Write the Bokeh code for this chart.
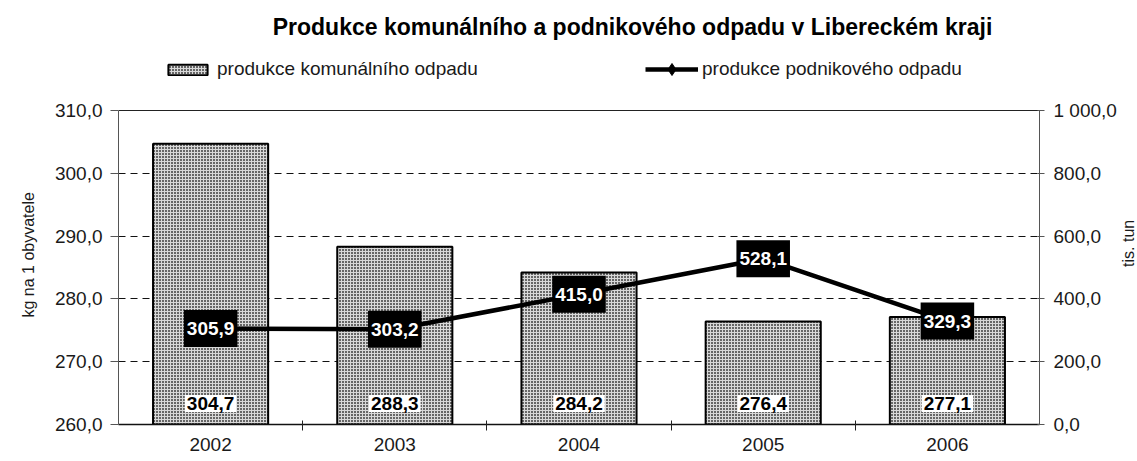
import math
from bokeh.plotting import figure
from bokeh.layouts import row
from bokeh.models import Range1d, LinearAxis, FixedTicker, Legend, LegendItem, Title, Label, Grid
from bokeh.core.properties import value
from bokeh.embed import file_html
from bokeh.resources import INLINE

# ---- data ----
years = ["2002", "2003", "2004", "2005", "2006"]
komunal = [304.7, 288.3, 284.2, 276.4, 277.1]      # kg na 1 obyvatele (left axis)
podnik = [305.9, 303.2, 415.0, 528.1, 329.3]       # tis. tun (right axis)
left_ticks = [260, 270, 280, 290, 300, 310]
left_labels = ["260,0", "270,0", "280,0", "290,0", "300,0", "310,0"]
right_ticks = [0, 200, 400, 600, 800, 1000]
right_labels = ["0,0", "200,0", "400,0", "600,0", "800,0", "1 000,0"]

def fmt(v):
    return f"{v:.1f}".replace(".", ",")

xs = [i + 0.5 for i in range(len(years))]
komunal_labels = [fmt(v) for v in komunal]
podnik_labels = [fmt(v) for v in podnik]

FONT = "Liberation Sans"
TXT = "#1a1a1a"

# ---- layout (pixels) ----
# The frame covers the header too (title + legend live inside it);
# the axes are bounded to the value ranges so the chart box is 314 px tall.
FW = 921
PLOT_H = 314          # height of the 260..310 band
HEAD = 110            # header space above the band
FH = PLOT_H + HEAD
BL, BR, BT, BB = 118, 80, 0, 37
STRIP_W = 18          # narrow strip on the right for the right axis title
TOTAL_H = FH + BT + BB
Y0, Y1 = left_ticks[0], left_ticks[-1]
R0, R1 = right_ticks[0], right_ticks[-1]
y_top = Y0 + FH / PLOT_H * (Y1 - Y0)
r_top = R0 + FH / PLOT_H * (R1 - R0)

def dx(px):   # canvas px -> x data
    return (px - BL) / FW * len(years)

def dy(py):   # canvas px -> left y data
    return Y0 + (FH - py) / PLOT_H * (Y1 - Y0)

p = figure(frame_width=FW, frame_height=FH,
           x_range=Range1d(0, len(years)), y_range=Range1d(Y0, y_top),
           output_backend="svg", toolbar_location=None,
           min_border_left=BL, min_border_right=BR,
           min_border_top=BT, min_border_bottom=BB,
           background_fill_color="white", border_fill_color="white")
p.extra_y_ranges = {"right": Range1d(R0, r_top)}
p.outline_line_color = None

# grid
p.xgrid.visible = False
p.ygrid.ticker = FixedTicker(ticks=left_ticks[1:-1])
p.ygrid.grid_line_color = "#111111"
p.ygrid.grid_line_dash = "7 5"
p.ygrid.grid_line_width = 1
p.add_layout(Grid(dimension=1, ticker=FixedTicker(ticks=[Y1]),
                  grid_line_color="#222222", grid_line_width=1.2))

# x axis
xa = p.xaxis[0]
xa.ticker = FixedTicker(ticks=xs, minor_ticks=[1, 2, 3, 4])
xa.major_label_overrides = {x: y for x, y in zip(xs, years)}
xa.major_tick_line_color = None
xa.major_tick_in = 0
xa.major_tick_out = 0
xa.minor_tick_in = 4
xa.minor_tick_out = 6
xa.minor_tick_line_color = "#222222"
xa.axis_line_color = "#111111"
xa.axis_line_width = 1.5
xa.major_label_standoff = 7
xa.major_label_text_font = FONT
xa.major_label_text_font_size = "19px"
xa.major_label_text_color = TXT

# left axis
ya = p.yaxis[0]
ya.bounds = (Y0, Y1)
ya.ticker = FixedTicker(ticks=left_ticks, minor_ticks=[])
ya.major_label_overrides = dict(zip(left_ticks, left_labels))
ya.major_tick_in = 0
ya.major_tick_out = 8
ya.minor_tick_line_color = None
ya.axis_line_color = "#555555"
ya.major_tick_line_color = "#555555"
ya.major_label_standoff = 8
ya.major_label_text_font = FONT
ya.major_label_text_font_size = "19px"
ya.major_label_text_color = TXT

# right axis
ra = LinearAxis(y_range_name="right", bounds=(R0, R1),
                ticker=FixedTicker(ticks=right_ticks, minor_ticks=[]))
ra.major_label_overrides = dict(zip(right_ticks, right_labels))
ra.major_tick_in = 2
ra.major_tick_out = 5
ra.minor_tick_line_color = None
ra.axis_line_color = "#555555"
ra.major_tick_line_color = "#555555"
ra.major_label_standoff = 9
ra.major_label_text_font = FONT
ra.major_label_text_font_size = "19px"
ra.major_label_text_color = TXT
p.add_layout(ra, "right")

# bars
r_bar = p.vbar(x=xs, top=komunal, bottom=Y0, width=0.625,
               fill_color="#666666", hatch_pattern="cross", hatch_color="#d8d8d8",
               hatch_scale=3, hatch_weight=1,
               line_color="#000000", line_width=2)

# line
r_line = p.line(xs, podnik, y_range_name="right", line_color="black", line_width=4.5)
r_mark = p.scatter(xs, podnik, y_range_name="right", marker="diamond", size=14,
                   fill_color="black", line_color="black")

# bar value labels (white boxes near the base)
p.text(x=xs, y=[dy(403)] * len(xs), text=komunal_labels,
       text_font=value(FONT), text_font_size="19px", text_font_style="bold",
       text_color="black", text_align="center", text_baseline="middle",
       background_fill_color="white", padding=2)

# line value labels (black boxes)
p.text(x=xs, y=podnik, text=podnik_labels, y_range_name="right",
       text_font=value(FONT), text_font_size="19px", text_font_style="bold",
       text_color="white", text_align="center", text_baseline="middle",
       background_fill_color="black", padding=dict(left=3, right=3, top=12, bottom=12))

# legends (inside the header part of the frame)
leg_common = dict(orientation="horizontal", padding=0, margin=0, spacing=0,
                  border_line_color=None, background_fill_alpha=0,
                  label_text_font=FONT, label_text_font_size="19px",
                  label_text_color=TXT)
leg1 = Legend(items=[LegendItem(label="produkce komunálního odpadu", renderers=[r_bar])],
              location=(45, FH - 80), glyph_width=49, glyph_height=13, label_standoff=5,
              **leg_common)
leg2 = Legend(items=[LegendItem(label="produkce podnikového odpadu", renderers=[r_line, r_mark])],
              location=(527, FH - 84), glyph_width=53, glyph_height=30, label_standoff=4,
              **leg_common)
p.add_layout(leg1)
p.add_layout(leg2)

# title
p.add_layout(Label(x=dx(632), y=dy(26), text="Produkce komunálního a podnikového odpadu v Libereckém kraji",
                   text_font=FONT, text_font_size="23px", text_font_style="bold",
                   text_color="black", text_align="center", text_baseline="alphabetic"))

# left axis title (starts 107 px above the frame bottom)
p.add_layout(Title(text="kg na 1 obyvatele", align="left", offset=107, standoff=30,
                   text_font=FONT, text_font_size="16px", text_font_style="normal",
                   text_color=TXT), "left")

# narrow strip carrying the right axis title beside the value band
s = figure(width=STRIP_W, height=TOTAL_H, x_range=Range1d(0, STRIP_W), y_range=Range1d(0, TOTAL_H),
           output_backend="svg", toolbar_location=None,
           min_border=0, min_border_left=0, min_border_right=0,
           min_border_top=0, min_border_bottom=0,
           background_fill_color="white", border_fill_color="white")
s.outline_line_color = None
s.axis.visible = False
s.grid.visible = False
s.text(x=[STRIP_W / 2], y=[TOTAL_H - 264], text=["tis. tun"], angle=math.pi / 2,
       text_font=value(FONT), text_font_size="16px", text_color=TXT,
       text_align="center", text_baseline="middle")

layout = row(p, s)
open("out.html", "w").write(file_html(layout, INLINE))
